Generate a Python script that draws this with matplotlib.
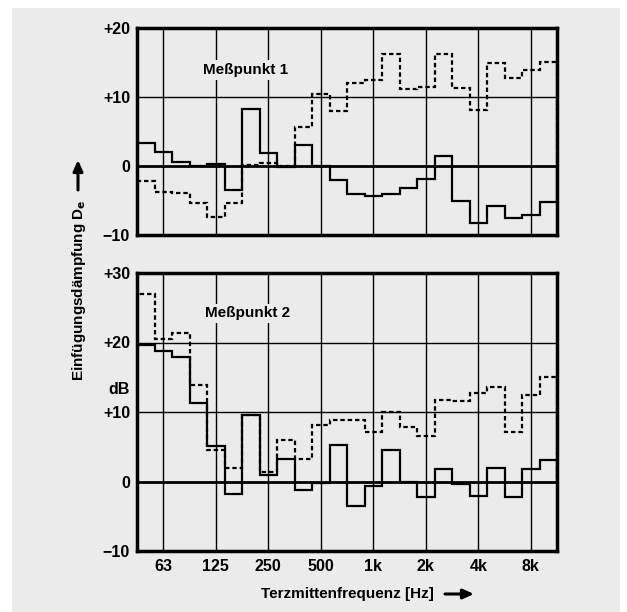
import numpy as np
import matplotlib
matplotlib.use("Agg")
import matplotlib.pyplot as plt
from matplotlib.patches import Rectangle, FancyArrowPatch

# third-octave bands 50 Hz .. 10 kHz
bands = ['50', '63', '80', '100', '125', '160', '200', '250', '315', '400', '500', '630',
         '800', '1k', '1.25k', '1.6k', '2k', '2.5k', '3.15k', '4k', '5k', '6.3k', '8k', '10k']
tick_bands = ['63', '125', '250', '500', '1k', '2k', '4k', '8k']

# Messpunkt 1
mp1_solid = [3.4, 2.1, 0.6, 0.0, 0.3, -3.5, 8.3, 1.9, -0.2, 3.1, 0.0, -2.1,
             -4.1, -4.3, -4.1, -3.2, -1.9, 1.5, -5.1, -8.3, -5.8, -7.6, -7.1, -5.2]
mp1_dashed = [-2.2, -3.7, -3.9, -5.3, -7.4, -5.3, 0.2, 0.4, 0.0, 5.6, 10.5, 8.0,
              12.0, 12.4, 16.3, 11.1, 11.5, 16.2, 11.3, 8.1, 15.0, 12.8, 13.9, 15.1]

# Messpunkt 2
mp2_solid = [19.6, 18.8, 17.9, 11.3, 5.1, -1.8, 9.5, 0.9, 3.3, -1.2, -0.2, 5.2,
             -3.5, -0.6, 4.5, 0.0, -2.3, 1.8, -0.4, -2.1, 2.0, -2.2, 1.8, 3.1]
mp2_dashed = [27.0, 20.5, 21.4, 13.9, 4.5, 1.9, 9.6, 1.4, 5.9, 3.2, 8.2, 8.9,
              8.8, 7.1, 10.0, 7.9, 6.6, 11.7, 11.6, 12.7, 13.6, 7.1, 12.5, 15.0]

bg = '#ebebeb'
W, H = 627, 612
fig = plt.figure(figsize=(W / 100, H / 100), dpi=100, facecolor='white')
fig.patches.append(Rectangle((12 / W, 0), 608 / W, 604 / H, transform=fig.transFigure,
                             facecolor=bg, edgecolor='none', zorder=-10))

plt.rcParams['font.family'] = ['Liberation Sans', 'DejaVu Sans']
plt.rcParams['font.weight'] = 'bold'


def px_axes(left, top, right, bottom):
    return fig.add_axes([left / W, 1 - bottom / H, (right - left) / W, (bottom - top) / H])


def fx(x):
    return x / W


def fy(y):
    return 1 - y / H


ax1 = px_axes(137, 28, 557, 235)
ax2 = px_axes(137, 273, 557, 551)

edges = np.arange(len(bands) + 1)
centers = np.array([bands.index(b) + 0.5 for b in tick_bands])

def setup(ax, ylo, yhi, hlines, ticks, labels):
    ax.set_facecolor(bg)
    ax.set_xlim(0, len(bands))
    ax.set_ylim(ylo, yhi)
    for c in centers:
        ax.axvline(c, color='black', lw=1.0, zorder=1)
    for h in hlines:
        ax.axhline(h, color='black', lw=1.0, zorder=1)
    ax.axhline(0, color='black', lw=2.0, zorder=1)
    for s in ax.spines.values():
        s.set_linewidth(2.5)
    ax.set_yticks(ticks)
    ax.set_yticklabels(labels, fontsize=11.5, fontweight='bold')
    ax.tick_params(axis='both', length=0, pad=5)


setup(ax1, -10, 20, [10], [20, 10, 0, -10], ['+20', '+10', '0', '\u221210'])
setup(ax2, -10, 30, [10, 20], [30, 20, 13.5, 10, 0, -10],
      ['+30', '+20', 'dB', '+10', '0', '\u221210'])

ax1.set_xticks([])
ax2.set_xticks(centers)
ax2.set_xticklabels(tick_bands, fontsize=11.5, fontweight='bold')
ax2.tick_params(axis='x', pad=6)

for ax, s, d in [(ax1, mp1_solid, mp1_dashed), (ax2, mp2_solid, mp2_dashed)]:
    ax.stairs(d, edges, color='black', lw=1.6, linestyle=(0, (2.0, 1.3)), zorder=3)
    ax.stairs(s, edges, color='black', lw=1.6, zorder=4)

tb = dict(facecolor=bg, edgecolor='none', pad=2)
ax1.text(3.75, 13.9, 'Meßpunkt 1', fontsize=11, fontweight='bold', va='center',
         bbox=tb, zorder=5)
ax2.text(3.9, 24.2, 'Meßpunkt 2', fontsize=11, fontweight='bold', va='center',
         bbox=tb, zorder=5)

arrow_kw = dict(transform=fig.transFigure, arrowstyle='-|>,head_length=4,head_width=1.8',
                lw=2.2, color='black', mutation_scale=1.6, shrinkA=0, shrinkB=0)

# y label with upward arrow
fig.text(fx(79), fy(290), 'Einfügungsdämpfung D$_\\mathbf{e}$', rotation=90,
         ha='center', va='center', fontsize=11, fontweight='bold')
fig.patches.append(FancyArrowPatch((fx(78), fy(190)), (fx(78), fy(160)), **arrow_kw))

# x label with arrow to the right
fig.text(fx(261), fy(594), 'Terzmittenfrequenz [Hz]', ha='left', va='center',
         fontsize=11, fontweight='bold')
fig.patches.append(FancyArrowPatch((fx(445), fy(594)), (fx(474), fy(594)), **arrow_kw))

fig.savefig('out.png', dpi=100, facecolor=fig.get_facecolor())
